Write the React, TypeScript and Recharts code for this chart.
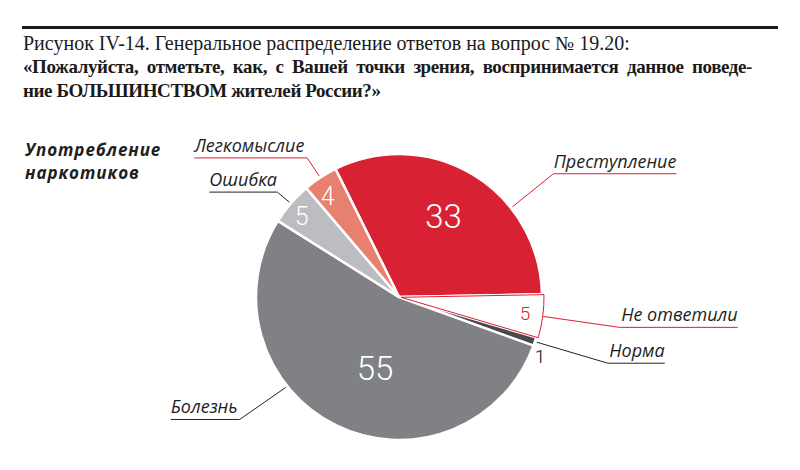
import { PieChart, Pie, Cell } from 'recharts'

const categories = ['Преступление', 'Не ответили', 'Норма', 'Болезнь', 'Ошибка', 'Легкомыслие']
const shares = [33, 5, 1, 55, 5, 4]
const colors = ['#d92134', '#ffffff', '#4a4a4c', '#808184', '#bcbdc0', '#e8806f']

const data = categories.map((name, i) => ({ name, value: shares[i] }))

// where each leader line starts (angle on the rim), its elbow and tail, and where the number sits
const labelLayout = [
	{ at: 38.5, elbow: [41, -33], tail: 123, line: '#d92134', val: [61, 92], size: 33, color: '#fff' },
	{ at: null, elbow: [77, 11], tail: 118, line: '#d92134', val: [-7.4, 127], size: 19, color: '#d92134' },
	{ at: null, elbow: [71, 21], tail: 57, line: '#222', val: [-22.7, 153], size: 19, color: '#111' },
	{ at: -141.4, elbow: [-46, 32], tail: -69, line: '#222', val: [-108.7, 75], size: 33, color: '#fff' },
	{ at: null, elbow: [-12, -10], tail: -68, line: '#222', val: [140.5, 126], size: 25, color: '#fff' },
	{ at: null, elbow: [-12, -18], tail: -113, line: '#d92134', val: [125.4, 123], size: 25, color: '#fff' },
]

const RAD = Math.PI / 180
const polar = (cx: number, cy: number, r: number, a: number) => [cx + r * Math.cos(a * RAD), cy - r * Math.sin(a * RAD)]

const renderLabel = (props: any) => {
	const { cx, cy, outerRadius, midAngle, index, name, value } = props
	const l = labelLayout[index]
	const [sx, sy] = polar(cx, cy, outerRadius + 2, l.at ?? midAngle)
	const ex = sx + l.elbow[0]
	const ey = sy + l.elbow[1]
	const tx = ex + l.tail
	const [vx, vy] = polar(cx, cy, l.val[1], l.val[0])
	return (
		<g>
			<polyline points={`${sx},${sy} ${ex},${ey} ${tx},${ey}`} fill='none' stroke={l.line} strokeWidth={1} />
			<text
				x={tx}
				y={ey - 6}
				textAnchor={l.tail > 0 ? 'end' : 'start'}
				fontFamily='"Open Sans", sans-serif'
				fontStyle='italic'
				fontSize={18}
				fill='#1e1e1e'
			>
				{name}
			</text>
			<text
				x={vx}
				y={vy}
				textAnchor='middle'
				dominantBaseline='central'
				fontFamily='Roboto, sans-serif'
				fontWeight={300}
				fontSize={l.size}
				fill={l.color}
			>
				{value}
			</text>
		</g>
	)
}

const App = () => {
	return (
		<div style={{ position: 'absolute', left: 0, top: 0, width: 800, height: 470, background: '#fff' }}>
			<div style={{ position: 'absolute', left: 22, top: 26, width: 756, height: 3, background: '#1a1a1a' }} />
			<div
				style={{
					position: 'absolute',
					left: 23,
					top: 31,
					width: 729,
					fontFamily: '"Liberation Serif", serif',
					fontSize: 20,
					lineHeight: '24px',
					color: '#1a1a1a',
				}}
			>
				<div>Рисунок IV-14. Генеральное распределение ответов на вопрос № 19.20:</div>
				<div
					style={{
						fontWeight: 700,
						fontSize: 19,
						letterSpacing: -0.4,
						whiteSpace: 'nowrap',
						textAlign: 'justify',
						textAlignLast: 'justify',
					}}
				>
					«Пожалуйста, отметьте, как, с Вашей точки зрения, воспринимается данное поведе-
				</div>
				<div style={{ fontWeight: 700, fontSize: 19, letterSpacing: -0.4 }}>ние БОЛЬШИНСТВОМ жителей России?»</div>
			</div>
			<div
				style={{
					position: 'absolute',
					left: 25,
					top: 138,
					fontFamily: '"Open Sans", sans-serif',
					fontStyle: 'italic',
					fontWeight: 700,
					fontSize: 17,
					lineHeight: '23px',
					letterSpacing: 0.9,
					color: '#1e1e1e',
				}}
			>
				Употребление
				<br />
				наркотиков
			</div>
			<PieChart width={800} height={470} margin={{ top: 0, right: 0, bottom: 0, left: 0 }}>
				<Pie
					data={data}
					dataKey='value'
					nameKey='name'
					cx={399}
					cy={297}
					outerRadius={143}
					startAngle={116.4}
					endAngle={-243.6}
					stroke='#fff'
					strokeWidth={2.5}
					label={renderLabel}
					labelLine={false}
					isAnimationActive={false}
				>
					{data.map((d, i) => (
						<Cell key={d.name} fill={colors[i]} />
					))}
				</Pie>
				<Pie
					data={data}
					dataKey='value'
					nameKey='name'
					cx={401}
					cy={297.3}
					outerRadius={143}
					startAngle={116.4}
					endAngle={-243.6}
					label={false}
					labelLine={false}
					isAnimationActive={false}
				>
					{data.map((d, i) => (
						<Cell
							key={d.name}
							fill={i === 1 ? '#fff' : 'none'}
							stroke={i === 1 ? '#d92134' : 'none'}
							strokeWidth={1}
						/>
					))}
				</Pie>
			</PieChart>
		</div>
	)
}

export default App
